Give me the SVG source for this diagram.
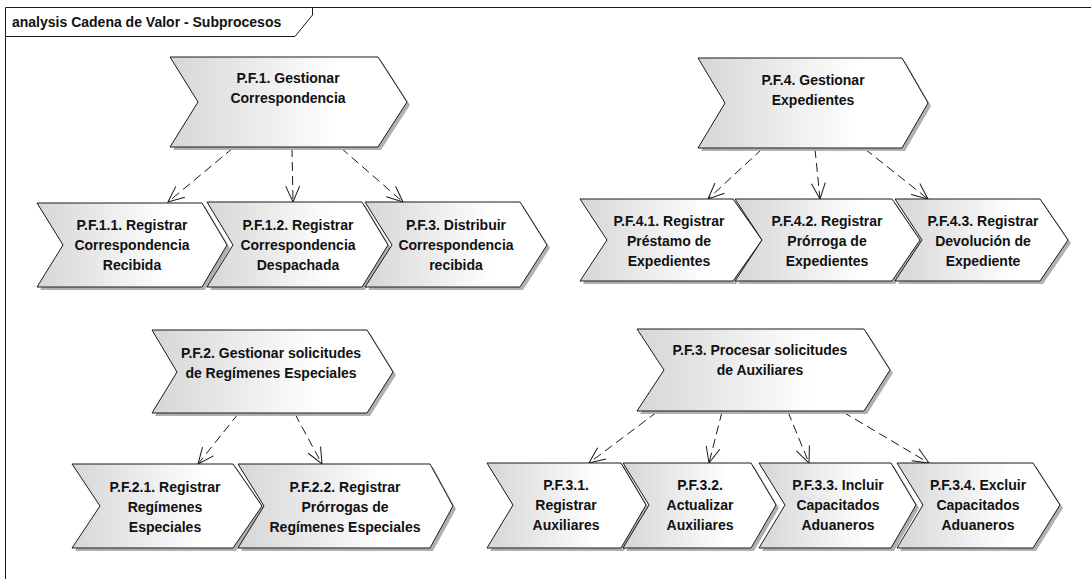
<svg xmlns="http://www.w3.org/2000/svg" width="1091" height="579" viewBox="0 0 1091 579">
<style>
.shape{fill:url(#g);stroke:#1a1a1a;stroke-width:1}
.shadow{fill:#b0b0b0;stroke:none}
.t{font-family:"Liberation Sans",Arial,sans-serif;font-weight:bold;font-size:14px;fill:#111;text-anchor:middle}
.c{fill:none;stroke:#1a1a1a;stroke-width:1;stroke-dasharray:9,5;marker-end:url(#arr)}
</style>
<defs>
<linearGradient id="g" x1="0" y1="0" x2="1" y2="0">
<stop offset="0" stop-color="#d6d6d6"/>
<stop offset="0.7" stop-color="#ffffff"/>
</linearGradient>
<marker id="arr" viewBox="-18 -10 20 20" markerWidth="20" markerHeight="20" refX="0" refY="0" orient="auto" markerUnits="userSpaceOnUse">
<path d="M-16,-7 L0,0 L-16,7" fill="none" stroke="#1a1a1a" stroke-width="1" stroke-dasharray="none"/>
</marker>
</defs>
<rect width="1091" height="579" fill="#fff"/>
<g id="frame">
<path d="M1091,7.5 H5.5 V579" fill="none" stroke="#1a1a1a"/>
<path d="M5.5,36.5 H295 L312.5,15 V7.5" fill="none" stroke="#1a1a1a"/>
<text x="12" y="27" style="font-family:'Liberation Sans',Arial,sans-serif;font-weight:bold;font-size:14px;fill:#111">analysis Cadena de Valor - Subprocesos</text>
</g>
<g id="connectors">
<line class="c" x1="233" y1="148" x2="168" y2="202"/>
<line class="c" x1="292" y1="148" x2="293" y2="202"/>
<line class="c" x1="341" y1="148" x2="403" y2="202"/>
<line class="c" x1="762" y1="149" x2="708" y2="199"/>
<line class="c" x1="815" y1="149" x2="820" y2="199"/>
<line class="c" x1="865" y1="149" x2="928" y2="199"/>
<line class="c" x1="238" y1="414" x2="198" y2="464"/>
<line class="c" x1="295" y1="414" x2="322" y2="464"/>
<line class="c" x1="657" y1="412" x2="589" y2="463"/>
<line class="c" x1="722" y1="412" x2="709" y2="463"/>
<line class="c" x1="788" y1="412" x2="809" y2="463"/>
<line class="c" x1="843" y1="412" x2="929" y2="463"/>
</g>
<g id="pf1">
<polygon class="shadow" transform="translate(3,3)" points="170,57 378,57 407,102 378,147 170,147 198,102"/>
<polygon class="shape" points="170,57 378,57 407,102 378,147 170,147 198,102"/>
<text class="t" x="288" y="83">P.F.1. Gestionar</text>
<text class="t" x="288" y="103">Correspondencia</text>
</g>
<g id="pf11">
<polygon class="shadow" transform="translate(3,3)" points="37,203 202,203 227,245 202,287 37,287 63,245"/>
<polygon class="shape" points="37,203 202,203 227,245 202,287 37,287 63,245"/>
<text class="t" x="132" y="230">P.F.1.1. Registrar</text>
<text class="t" x="132" y="250">Correspondencia</text>
<text class="t" x="132" y="270">Recibida</text>
</g>
<g id="pf12">
<polygon class="shadow" transform="translate(3,3)" points="207,202 362,202 388,245 362,287 207,287 233,245"/>
<polygon class="shape" points="207,202 362,202 388,245 362,287 207,287 233,245"/>
<text class="t" x="298" y="230">P.F.1.2. Registrar</text>
<text class="t" x="298" y="250">Correspondencia</text>
<text class="t" x="298" y="270">Despachada</text>
</g>
<g id="pf13">
<polygon class="shadow" transform="translate(3,3)" points="365,202 520,202 547,245 520,287 365,287 392,245"/>
<polygon class="shape" points="365,202 520,202 547,245 520,287 365,287 392,245"/>
<text class="t" x="456" y="230">P.F.3. Distribuir</text>
<text class="t" x="456" y="250">Correspondencia</text>
<text class="t" x="456" y="270">recibida</text>
</g>
<g id="pf4">
<polygon class="shadow" transform="translate(3,3)" points="698,58 902,58 928,103 902,148 698,148 725,103"/>
<polygon class="shape" points="698,58 902,58 928,103 902,148 698,148 725,103"/>
<text class="t" x="813" y="85">P.F.4. Gestionar</text>
<text class="t" x="813" y="105">Expedientes</text>
</g>
<g id="pf41">
<polygon class="shadow" transform="translate(3,3)" points="580,199 733,199 762,240 733,281 580,281 607,240"/>
<polygon class="shape" points="580,199 733,199 762,240 733,281 580,281 607,240"/>
<text class="t" x="669" y="226">P.F.4.1. Registrar</text>
<text class="t" x="669" y="246">Préstamo de</text>
<text class="t" x="669" y="266">Expedientes</text>
</g>
<g id="pf42">
<polygon class="shadow" transform="translate(3,3)" points="735,199 892,199 920,240 892,281 735,281 762,240"/>
<polygon class="shape" points="735,199 892,199 920,240 892,281 735,281 762,240"/>
<text class="t" x="827" y="226">P.F.4.2. Registrar</text>
<text class="t" x="827" y="246">Prórroga de</text>
<text class="t" x="827" y="266">Expedientes</text>
</g>
<g id="pf43">
<polygon class="shadow" transform="translate(3,3)" points="895,199 1040,199 1068,240 1040,281 895,281 922,240"/>
<polygon class="shape" points="895,199 1040,199 1068,240 1040,281 895,281 922,240"/>
<text class="t" x="983" y="226">P.F.4.3. Registrar</text>
<text class="t" x="983" y="246">Devolución de</text>
<text class="t" x="983" y="266">Expediente</text>
</g>
<g id="pf2">
<polygon class="shadow" transform="translate(3,3)" points="152,330 367,330 393,372 367,413 152,413 177,372"/>
<polygon class="shape" points="152,330 367,330 393,372 367,413 152,413 177,372"/>
<text class="t" x="271" y="358">P.F.2. Gestionar solicitudes</text>
<text class="t" x="271" y="378">de Regímenes Especiales</text>
</g>
<g id="pf21">
<polygon class="shadow" transform="translate(3,3)" points="72,464 233,464 262,506 233,548 72,548 100,506"/>
<polygon class="shape" points="72,464 233,464 262,506 233,548 72,548 100,506"/>
<text class="t" x="165" y="492">P.F.2.1. Registrar</text>
<text class="t" x="165" y="512">Regímenes</text>
<text class="t" x="165" y="532">Especiales</text>
</g>
<g id="pf22">
<polygon class="shadow" transform="translate(3,3)" points="238,464 430,464 453,506 430,548 238,548 264,506"/>
<polygon class="shape" points="238,464 430,464 453,506 430,548 238,548 264,506"/>
<text class="t" x="345" y="492">P.F.2.2. Registrar</text>
<text class="t" x="345" y="512">Prórrogas de</text>
<text class="t" x="345" y="532">Regímenes Especiales</text>
</g>
<g id="pf3">
<polygon class="shadow" transform="translate(3,3)" points="637,329 864,329 890,370 864,411 637,411 664,370"/>
<polygon class="shape" points="637,329 864,329 890,370 864,411 637,411 664,370"/>
<text class="t" x="760" y="355">P.F.3. Procesar solicitudes</text>
<text class="t" x="760" y="375">de Auxiliares</text>
</g>
<g id="pf31">
<polygon class="shadow" transform="translate(3,3)" points="487,463 621,463 646,505 621,548 487,548 513,505"/>
<polygon class="shape" points="487,463 621,463 646,505 621,548 487,548 513,505"/>
<text class="t" x="566" y="490">P.F.3.1.</text>
<text class="t" x="566" y="510">Registrar</text>
<text class="t" x="566" y="530">Auxiliares</text>
</g>
<g id="pf32">
<polygon class="shadow" transform="translate(3,3)" points="623,463 751,463 776,505 751,548 623,548 649,505"/>
<polygon class="shape" points="623,463 751,463 776,505 751,548 623,548 649,505"/>
<text class="t" x="700" y="490">P.F.3.2.</text>
<text class="t" x="700" y="510">Actualizar</text>
<text class="t" x="700" y="530">Auxiliares</text>
</g>
<g id="pf33">
<polygon class="shadow" transform="translate(3,3)" points="759,463 891,463 916,505 891,548 759,548 785,505"/>
<polygon class="shape" points="759,463 891,463 916,505 891,548 759,548 785,505"/>
<text class="t" x="838" y="490">P.F.3.3. Incluir</text>
<text class="t" x="838" y="510">Capacitados</text>
<text class="t" x="838" y="530">Aduaneros</text>
</g>
<g id="pf34">
<polygon class="shadow" transform="translate(3,3)" points="897,463 1033,463 1060,505 1033,548 897,548 923,505"/>
<polygon class="shape" points="897,463 1033,463 1060,505 1033,548 897,548 923,505"/>
<text class="t" x="978" y="490">P.F.3.4. Excluir</text>
<text class="t" x="978" y="510">Capacitados</text>
<text class="t" x="978" y="530">Aduaneros</text>
</g>
</svg>
